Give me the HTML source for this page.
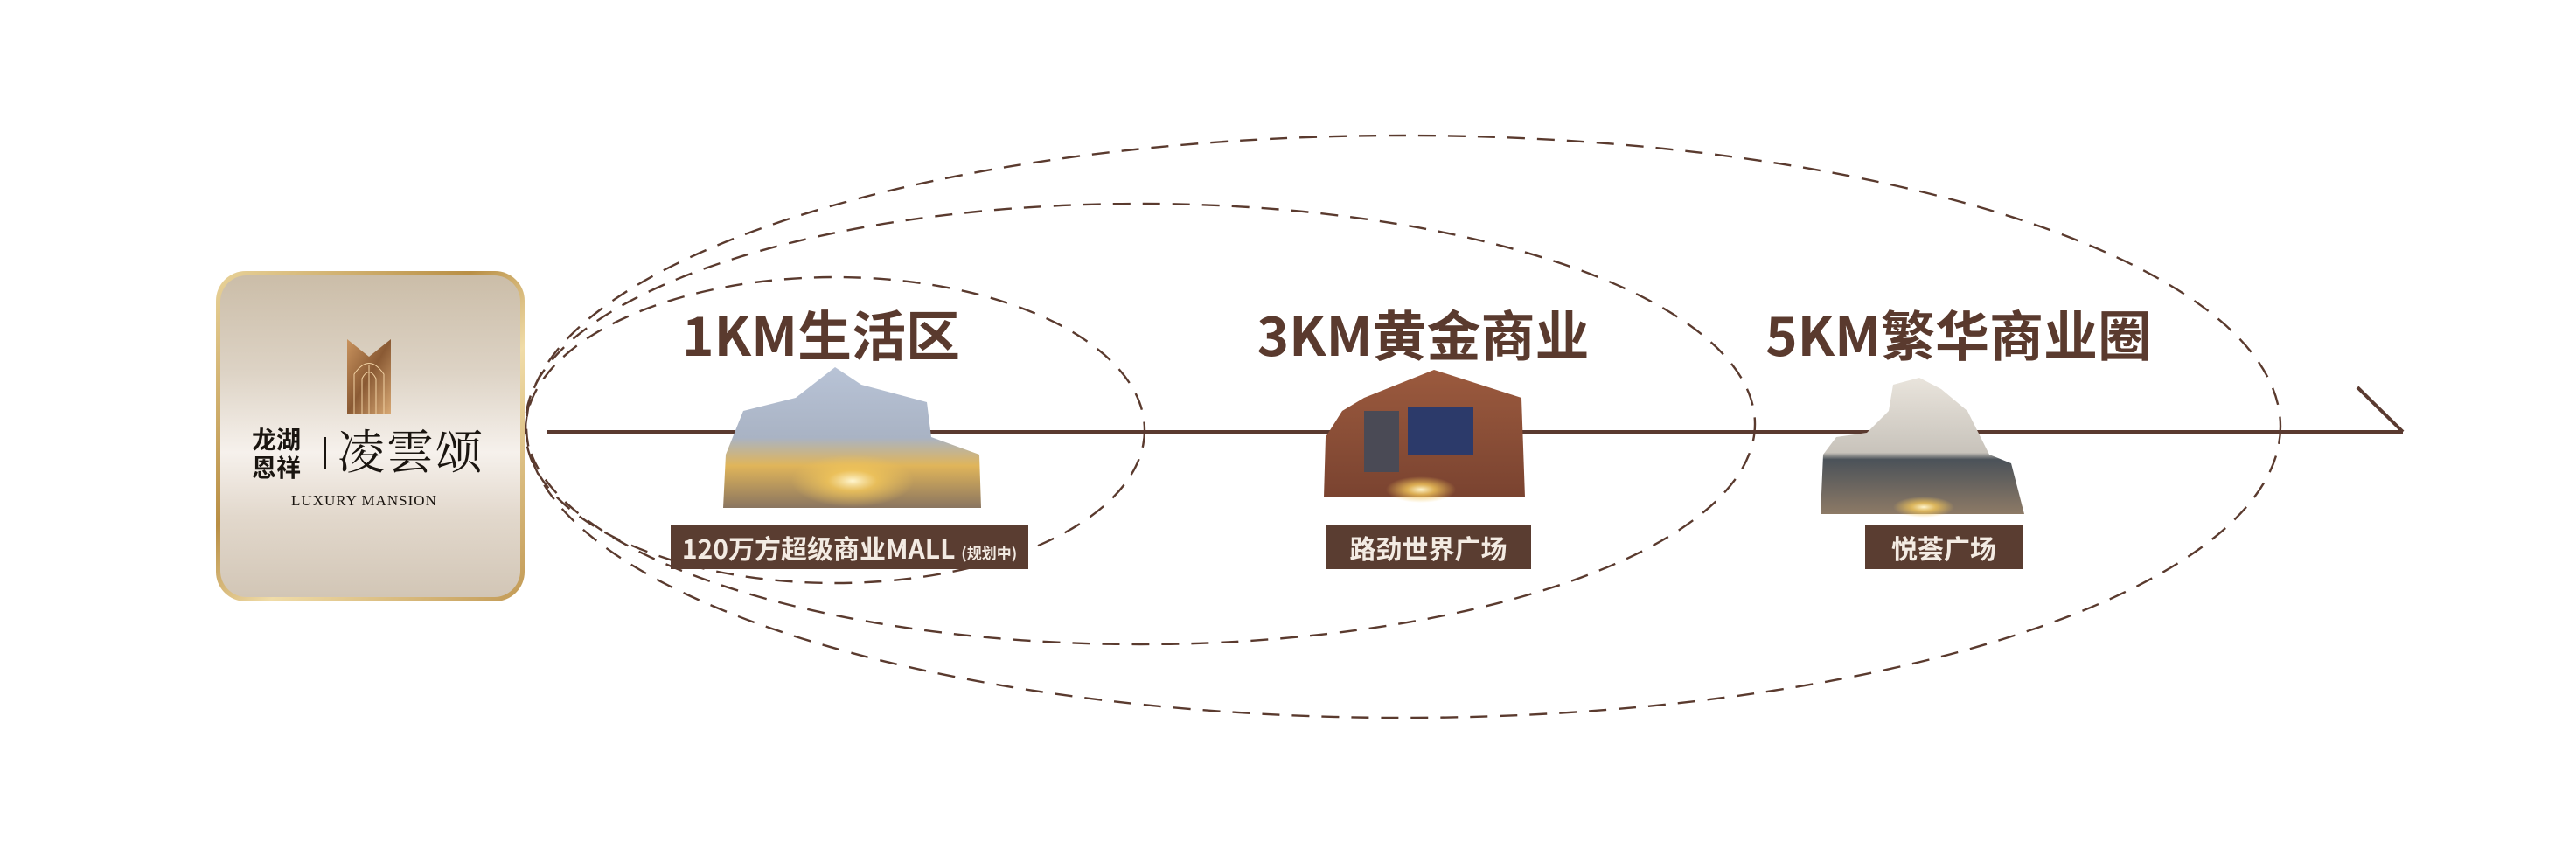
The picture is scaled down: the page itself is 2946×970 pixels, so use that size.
<!DOCTYPE html>
<html><head><meta charset="utf-8">
<style>
html,body{margin:0;padding:0;background:#fff;}
body{width:2946px;height:970px;position:relative;overflow:hidden;font-family:"Liberation Sans","Noto Sans CJK SC",sans-serif;}
.card{position:absolute;left:247px;top:310px;width:353px;height:378px;border-radius:34px;background:linear-gradient(135deg,#e9d39a,#b98f45 40%,#f0dca8 60%,#c29a55);}
.card .in{position:absolute;left:5px;top:5px;right:5px;bottom:5px;border-radius:30px;background:linear-gradient(180deg,#cbbda8 0%,#ddd3c5 30%,#f6f1ec 55%,#e2d8cc 75%,#d2c6b6 100%);}
.t{position:absolute;color:#5a3a2e;font-weight:bold;white-space:nowrap;font-family:"Noto Sans CJK SC",sans-serif;}
.ti{position:absolute;color:#5a3a2e;font-weight:bold;white-space:nowrap;font-family:"Noto Sans CJK SC",sans-serif;font-size:62px;line-height:76px;top:342px;text-align:center;}
.lab{position:absolute;background:#5a3d31;color:#f3ebe3;font-weight:bold;font-size:30px;height:50px;line-height:50px;text-align:center;white-space:nowrap;font-family:"Noto Sans CJK SC",sans-serif;}
</style></head><body>
<svg width="2946" height="970" style="position:absolute;left:0;top:0">
<g fill="none" stroke="#5a3a2e" stroke-width="2.4" stroke-dasharray="20,14">
<ellipse cx="955" cy="492" rx="354" ry="175"/>
<ellipse cx="1304" cy="485" rx="703" ry="252"/>
<ellipse cx="1605" cy="488" rx="1003" ry="333"/>
</g>
<line x1="626" y1="494" x2="2748" y2="494" stroke="#5a3a30" stroke-width="4"/>
<polyline points="2696,443 2748,494" fill="none" stroke="#5a3a30" stroke-width="4"/>
<defs>
<linearGradient id="b1" x1="0" y1="0" x2="0" y2="1"><stop offset="0" stop-color="#b8c3d6"/><stop offset=".5" stop-color="#a9b3c4"/><stop offset=".7" stop-color="#e0b55a"/><stop offset="1" stop-color="#8a7560"/></linearGradient>
<linearGradient id="b2" x1="0" y1="0" x2="0" y2="1"><stop offset="0" stop-color="#9b5a3e"/><stop offset="1" stop-color="#7a4330"/></linearGradient>
<linearGradient id="b3" x1="0" y1="0" x2="0" y2="1"><stop offset="0" stop-color="#e9e4dc"/><stop offset=".55" stop-color="#c8c3bb"/><stop offset=".6" stop-color="#4b5259"/><stop offset="1" stop-color="#8d7a66"/></linearGradient>
<radialGradient id="glow"><stop offset="0" stop-color="#fff6d0"/><stop offset=".4" stop-color="#f2c65a" stop-opacity=".8"/><stop offset="1" stop-color="#f2c65a" stop-opacity="0"/></radialGradient>
</defs>
<polygon points="830,520 850,470 910,455 955,420 985,440 1060,460 1065,500 1120,520 1122,581 827,581" fill="url(#b1)"/>
<ellipse cx="975" cy="550" rx="70" ry="30" fill="url(#glow)"/>
<polygon points="1516,500 1535,470 1560,455 1640,423 1740,455 1744,569 1514,569" fill="url(#b2)"/>
<rect x="1560" y="470" width="40" height="70" fill="#4a4a55"/>
<rect x="1610" y="465" width="75" height="55" fill="#2c3a6a"/>
<ellipse cx="1625" cy="560" rx="40" ry="15" fill="url(#glow)"/>
<polygon points="2085,520 2100,500 2135,495 2160,470 2165,440 2195,432 2220,445 2250,470 2275,520 2300,530 2315,588 2082,588" fill="url(#b3)"/>
<ellipse cx="2200" cy="580" rx="35" ry="12" fill="url(#glow)"/>
</svg>
<div class="card"><div class="in"></div></div>
<svg style="position:absolute;left:397px;top:388px" width="50" height="85" viewBox="0 0 50 85">
<defs><linearGradient id="g" x1="0" y1="0" x2="1" y2="1"><stop offset="0" stop-color="#c9935e"/><stop offset=".5" stop-color="#8a5a34"/><stop offset="1" stop-color="#d7a874"/></linearGradient></defs>
<path d="M0 0 L25 20 L50 0 L50 85 L0 85Z" fill="url(#g)"/>
<g fill="none" stroke="#f1d2a4" stroke-width="1"><path d="M8 85V40Q25 15 42 40V85"/><path d="M17 85V45Q25 30 33 45V85"/><path d="M25 85V30"/></g>
</svg>
<div class="t" style="left:288px;top:486px;font-size:28px;line-height:32px;color:#1a1510;">龙湖<br>恩祥</div>
<div style="position:absolute;left:371px;top:500px;width:2px;height:36px;background:#1a1510"></div>
<div class="t" style="left:386px;top:482px;font-size:54px;line-height:64px;color:#1a1510;font-weight:normal;font-family:'Noto Serif CJK SC',serif;letter-spacing:2px">凌雲颂</div>
<div class="t" style="left:333px;top:563px;font-size:17px;color:#1a1510;font-weight:normal;font-family:'Liberation Serif',serif;letter-spacing:1px">LUXURY MANSION</div>

<div class="ti" style="left:780px;width:310px">1KM生活区</div>
<div class="ti" style="left:1430px;width:395px">3KM黄金商业</div>
<div class="ti" style="left:2015px;width:450px">5KM繁华商业圈</div>

<div class="lab" style="left:767px;top:601px;width:409px">120万方超级商业MALL <span style="font-size:17px">(规划中)</span></div>
<div class="lab" style="left:1516px;top:601px;width:235px">路劲世界广场</div>
<div class="lab" style="left:2133px;top:601px;width:180px">悦荟广场</div>
</body></html>
